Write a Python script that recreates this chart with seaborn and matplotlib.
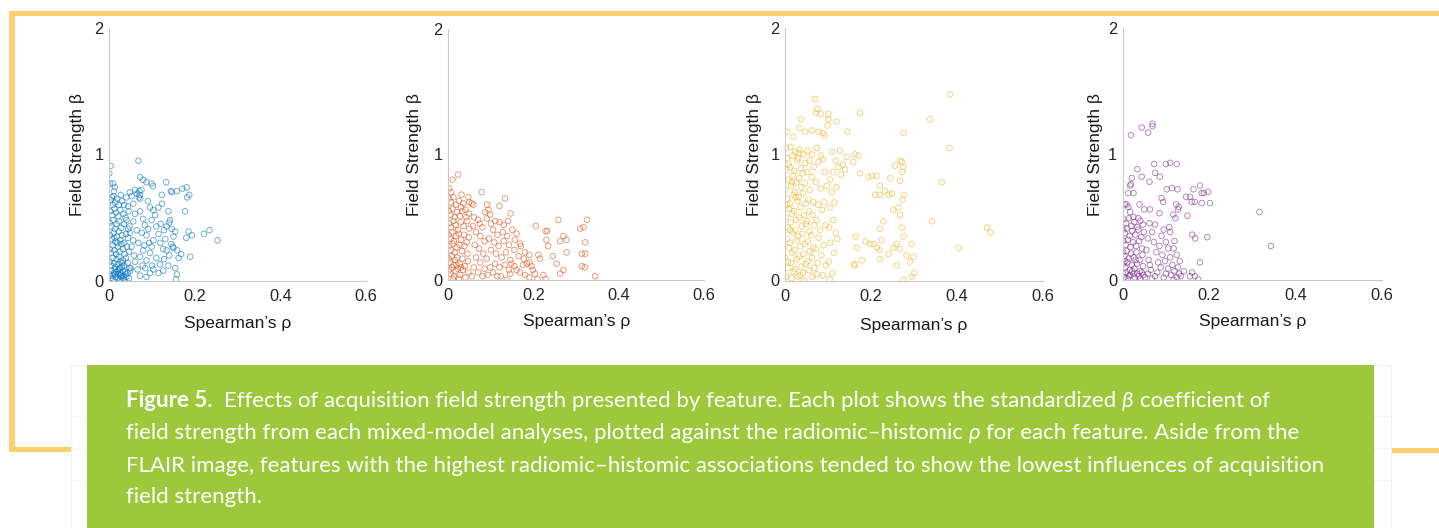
import matplotlib
matplotlib.use("Agg")
import matplotlib.pyplot as plt
import seaborn as sns
import pandas as pd
from matplotlib.transforms import IdentityTransform
from matplotlib.patches import Rectangle

# ---------------- data: (Spearman's rho, field-strength beta) per feature ----------------
panel1_points = [
    (0.003,0.91),(0.000,0.85),(0.068,0.95),(0.002,0.77),(0.009,0.77),(0.011,0.71),(0.013,0.74),
    (0.072,0.82),(0.079,0.80),(0.087,0.78),(0.099,0.77),(0.102,0.75),(0.133,0.78),(0.144,0.71),(0.146,0.70),
    (0.158,0.71),(0.171,0.73),(0.181,0.74),(0.187,0.68),(0.182,0.66),(0.177,0.55),(0.123,0.68),(0.123,0.61),
    (0.115,0.58),(0.103,0.56),(0.107,0.52),(0.099,0.48),(0.138,0.55),(0.142,0.48),(0.134,0.43),(0.146,0.41),
    (0.154,0.39),(0.150,0.35),(0.185,0.39),(0.193,0.36),(0.180,0.34),(0.221,0.37),(0.234,0.40),(0.253,0.32),
    (0.131,0.33),(0.119,0.30),(0.126,0.25),(0.134,0.24),(0.148,0.27),(0.159,0.24),(0.168,0.21),(0.162,0.18),
    (0.189,0.19),(0.154,0.10),(0.158,0.05),(0.156,0.01),(0.138,0.12),(0.126,0.08),(0.115,0.06),(0.103,0.09),
    (0.095,0.06),(0.084,0.10),(0.072,0.04),(0.087,0.03),
    (0.064,0.69),(0.072,0.65),(0.052,0.67),(0.056,0.61),(0.044,0.59),(0.060,0.53),(0.072,0.55),(0.079,0.49),
    (0.056,0.47),(0.044,0.41),(0.064,0.40),(0.076,0.38),(0.087,0.36),(0.056,0.32),(0.068,0.30),(0.052,0.27),
    (0.079,0.24),(0.072,0.19),(0.060,0.15),(0.087,0.16),(0.095,0.22),(0.099,0.27),(0.103,0.32),(0.091,0.41),
    (0.083,0.44),(0.070,0.71),(0.071,0.68),(0.069,0.66),(0.075,0.72),(0.060,0.72),(0.048,0.70),(0.040,0.66),
    (0.035,0.60),(0.090,0.63),(0.095,0.58),(0.110,0.43),(0.115,0.37),(0.120,0.45),(0.128,0.40),(0.140,0.46),
    (0.145,0.29),(0.150,0.26),(0.140,0.20),(0.128,0.17),(0.118,0.13),(0.110,0.18),(0.100,0.12),(0.093,0.30),
    (0.082,0.28),(0.078,0.12),(0.066,0.09),(0.058,0.20),(0.050,0.10),
    (0.003,0.64),(0.006,0.66),(0.010,0.67),(0.014,0.62),(0.018,0.65),(0.022,0.60),(0.027,0.68),(0.030,0.63),(0.008,0.60),
    (0.002,0.55),(0.007,0.52),(0.012,0.57),(0.016,0.54),(0.021,0.51),(0.026,0.56),(0.033,0.53),(0.038,0.50),(0.045,0.55),
    (0.001,0.46),(0.005,0.43),(0.009,0.48),(0.013,0.41),(0.017,0.45),(0.023,0.47),(0.028,0.42),(0.034,0.45),(0.040,0.48),(0.047,0.43),
    (0.002,0.36),(0.006,0.33),(0.010,0.38),(0.014,0.31),(0.018,0.35),(0.022,0.39),(0.026,0.32),(0.030,0.36),(0.035,0.30),
    (0.039,0.37),(0.044,0.34),(0.048,0.38),(0.012,0.34),
    (0.001,0.25),(0.004,0.22),(0.008,0.28),(0.012,0.24),(0.016,0.21),(0.020,0.27),(0.024,0.23),(0.028,0.29),(0.032,0.25),
    (0.036,0.21),(0.041,0.27),(0.046,0.23),(0.019,0.30),
    (0.002,0.15),(0.005,0.12),(0.008,0.18),(0.011,0.14),(0.014,0.11),(0.017,0.17),(0.020,0.13),(0.023,0.19),(0.026,0.15),
    (0.029,0.11),(0.032,0.16),(0.035,0.12),(0.039,0.18),(0.043,0.14),(0.047,0.10),(0.025,0.10),(0.030,0.14),
    (0.001,0.05),(0.003,0.02),(0.005,0.08),(0.007,0.04),(0.009,0.01),(0.011,0.06),(0.013,0.09),(0.015,0.03),(0.017,0.07),
    (0.019,0.02),(0.021,0.05),(0.023,0.09),(0.025,0.01),(0.027,0.06),(0.029,0.03),(0.031,0.08),(0.033,0.04),(0.035,0.01),
    (0.037,0.07),(0.040,0.03),(0.043,0.06),(0.046,0.02),(0.049,0.08),(0.014,0.05),(0.020,0.08),(0.026,0.04),(0.032,0.02),(0.038,0.05),
]

panel2_points = [
    (0.023,0.84),(0.010,0.80),(0.002,0.73),(0.007,0.70),(0.031,0.68),(0.047,0.66),(0.055,0.61),(0.049,0.62),(0.059,0.60),
    (0.078,0.70),(0.133,0.65),(0.120,0.59),(0.146,0.53),(0.091,0.60),(0.094,0.56),(0.086,0.54),(0.074,0.45),(0.205,0.43),
    (0.228,0.39),(0.232,0.39),(0.258,0.48),(0.309,0.41),(0.317,0.42),(0.325,0.48),(0.270,0.35),(0.277,0.32),(0.262,0.31),
    (0.321,0.30),(0.321,0.21),(0.313,0.21),(0.277,0.22),(0.230,0.32),(0.234,0.27),(0.245,0.19),(0.254,0.13),(0.270,0.08),
    (0.262,0.05),(0.320,0.10),(0.313,0.11),(0.344,0.03),(0.211,0.20),(0.215,0.17),(0.195,0.11),(0.203,0.05),(0.209,0.005),
    (0.223,0.04),(0.228,0.005),(0.156,0.32),(0.168,0.29),(0.177,0.17),(0.184,0.13),(0.160,0.08),(0.148,0.13),(0.123,0.03),
    (0.137,0.00),(0.145,0.05),
    (0.100,0.45),(0.110,0.47),(0.120,0.46),(0.130,0.44),(0.140,0.47),(0.105,0.40),(0.115,0.36),(0.128,0.38),(0.138,0.35),
    (0.150,0.40),(0.160,0.37),(0.095,0.33),(0.108,0.30),(0.118,0.27),(0.130,0.31),(0.142,0.28),(0.155,0.24),(0.170,0.27),
    (0.180,0.22),(0.190,0.20),(0.100,0.24),(0.112,0.21),(0.125,0.18),(0.135,0.22),(0.145,0.16),(0.165,0.19),(0.175,0.12),
    (0.190,0.14),(0.198,0.08),(0.110,0.13),(0.120,0.10),(0.132,0.12),(0.142,0.08),(0.155,0.11),(0.168,0.06),(0.180,0.04),
    (0.190,0.02),(0.105,0.06),(0.115,0.03),(0.098,0.10),(0.060,0.50),(0.070,0.48),(0.080,0.42),(0.065,0.38),(0.075,0.35),
    (0.085,0.31),(0.062,0.28),(0.072,0.25),(0.082,0.21),(0.090,0.17),(0.065,0.18),(0.075,0.14),(0.085,0.09),(0.060,0.10),
    (0.070,0.06),(0.080,0.03),(0.092,0.04),(0.055,0.03),(0.058,0.43),(0.090,0.49),(0.098,0.52),
    (0.002,0.65),(0.006,0.62),(0.012,0.66),(0.018,0.60),(0.025,0.63),(0.030,0.58),(0.035,0.61),(0.040,0.56),
    (0.001,0.55),(0.005,0.52),(0.010,0.57),(0.015,0.50),(0.020,0.54),(0.027,0.51),(0.033,0.55),(0.042,0.50),(0.048,0.53),
    (0.002,0.45),(0.007,0.42),(0.012,0.47),(0.017,0.44),(0.023,0.40),(0.029,0.46),(0.036,0.43),(0.044,0.47),(0.049,0.41),
    (0.001,0.36),(0.005,0.33),(0.009,0.38),(0.013,0.31),(0.018,0.35),(0.024,0.37),(0.030,0.32),(0.037,0.36),(0.043,0.30),(0.048,0.34),
    (0.002,0.27),(0.006,0.24),(0.010,0.29),(0.015,0.22),(0.020,0.26),(0.026,0.28),(0.032,0.23),(0.038,0.27),(0.045,0.21),
    (0.001,0.17),(0.004,0.14),(0.008,0.19),(0.012,0.12),(0.016,0.16),(0.021,0.18),(0.027,0.13),(0.033,0.17),(0.039,0.11),(0.046,0.15),
    (0.002,0.08),(0.005,0.05),(0.009,0.10),(0.013,0.03),(0.017,0.07),(0.022,0.09),(0.028,0.04),(0.034,0.08),(0.040,0.02),
    (0.047,0.06),(0.011,0.01),(0.025,0.01),(0.019,0.12),(0.030,0.10),
]

panel3_points = [
    (0.384,1.475),(0.070,1.44),(0.075,1.36),(0.072,1.33),(0.083,1.32),(0.101,1.32),(0.101,1.28),(0.099,1.23),(0.120,1.26),
    (0.175,1.33),(0.338,1.28),(0.145,1.18),(0.276,1.17),(0.037,1.28),(0.004,1.18),(0.019,1.14),(0.033,1.21),(0.047,1.18),
    (0.062,1.19),(0.078,1.18),(0.088,1.17),(0.093,1.15),(0.383,1.05),(0.365,0.78),(0.342,0.47),(0.470,0.42),(0.478,0.38),
    (0.404,0.26),(0.128,1.03),(0.144,0.98),(0.163,1.00),(0.171,0.99),(0.159,0.94),(0.175,0.85),(0.194,0.82),(0.202,0.83),
    (0.213,0.83),(0.221,0.75),(0.210,0.68),(0.221,0.68),(0.233,0.71),(0.241,0.68),(0.249,0.69),(0.245,0.81),(0.256,0.91),
    (0.268,0.95),(0.272,0.94),(0.276,0.90),(0.273,0.86),(0.268,0.79),(0.277,0.68),(0.274,0.64),(0.264,0.58),(0.252,0.56),
    (0.268,0.52),(0.272,0.42),(0.276,0.35),(0.229,0.47),(0.221,0.41),(0.260,0.29),(0.252,0.26),(0.268,0.25),(0.295,0.29),
    (0.283,0.20),(0.299,0.19),(0.291,0.15),(0.301,0.06),(0.295,0.03),(0.276,0.005),(0.260,0.12),(0.241,0.21),(0.221,0.17),
    (0.220,0.24),(0.206,0.29),(0.214,0.26),(0.225,0.32),(0.188,0.31),(0.198,0.29),(0.165,0.35),(0.167,0.26),(0.163,0.13),
    (0.161,0.12),(0.179,0.16),
    (0.110,1.02),(0.118,0.95),(0.125,0.90),(0.112,0.86),(0.130,0.84),(0.105,0.80),(0.120,0.74),(0.108,0.70),(0.115,0.62),
    (0.104,0.58),(0.112,0.48),(0.103,0.42),(0.118,0.38),(0.106,0.30),(0.114,0.22),(0.102,0.15),(0.110,0.06),(0.104,0.01),
    (0.135,0.92),(0.140,0.88),(0.122,0.33),
    (0.002,1.05),(0.006,0.97),(0.003,0.88),(0.008,0.80),(0.001,0.72),(0.005,0.65),(0.009,0.57),(0.002,0.50),(0.007,0.42),
    (0.004,0.33),(0.009,0.26),(0.001,0.18),(0.006,0.10),(0.003,0.03),(0.008,0.92),(0.004,0.60),(0.007,0.15),
    (0.013,1.06),(0.017,0.99),(0.012,0.90),(0.018,0.83),(0.014,0.75),(0.019,0.68),(0.011,0.61),(0.016,0.53),(0.013,0.46),
    (0.018,0.38),(0.012,0.30),(0.017,0.22),(0.014,0.14),(0.019,0.07),(0.015,0.02),(0.016,0.78),(0.011,0.40),
    (0.024,1.02),(0.028,0.95),(0.022,0.87),(0.027,0.78),(0.023,0.70),(0.029,0.63),(0.021,0.55),(0.026,0.48),(0.024,0.40),
    (0.028,0.32),(0.022,0.24),(0.027,0.17),(0.023,0.09),(0.029,0.03),(0.025,0.66),
    (0.034,1.04),(0.031,0.97),(0.037,0.89),(0.033,0.81),(0.038,0.74),(0.032,0.66),(0.036,0.58),(0.034,0.50),(0.039,0.43),
    (0.031,0.35),(0.036,0.27),(0.033,0.19),(0.038,0.11),(0.035,0.04),(0.032,1.01),
    (0.043,1.00),(0.047,0.93),(0.041,0.85),(0.046,0.77),(0.042,0.69),(0.048,0.61),(0.044,0.52),(0.049,0.45),(0.041,0.37),
    (0.046,0.29),(0.043,0.21),(0.048,0.13),(0.042,0.06),(0.045,0.00),
    (0.053,1.03),(0.057,0.95),(0.052,0.86),(0.058,0.72),(0.054,0.64),(0.056,0.55),(0.051,0.47),(0.057,0.39),(0.053,0.31),
    (0.058,0.23),(0.052,0.15),(0.056,0.08),
    (0.063,1.00),(0.067,0.90),(0.062,0.82),(0.066,0.62),(0.064,0.52),(0.068,0.44),(0.061,0.36),(0.066,0.26),(0.063,0.18),
    (0.068,0.10),(0.064,0.03),
    (0.074,1.05),(0.078,0.94),(0.072,0.78),(0.077,0.60),(0.073,0.48),(0.078,0.34),(0.072,0.25),(0.076,0.14),(0.074,0.05),
    (0.084,0.99),(0.088,0.96),(0.083,0.73),(0.091,0.62),(0.086,0.56),(0.094,0.44),(0.082,0.40),(0.090,0.28),(0.085,0.20),
    (0.095,0.12),(0.088,0.04),(0.092,0.86),(0.097,0.75),
]

panel4_points = [
    (0.069,1.24),(0.069,1.22),(0.044,1.21),(0.059,1.17),(0.019,1.15),(0.073,0.92),(0.100,0.92),(0.110,0.93),(0.125,0.92),
    (0.034,0.88),(0.075,0.85),(0.086,0.82),(0.044,0.82),(0.062,0.78),(0.021,0.81),(0.019,0.76),(0.017,0.75),(0.013,0.69),
    (0.025,0.69),(0.005,0.60),(0.009,0.60),(0.013,0.58),(0.017,0.54),(0.025,0.50),(0.036,0.49),(0.039,0.60),(0.050,0.56),
    (0.063,0.56),(0.085,0.53),(0.090,0.65),(0.094,0.62),(0.102,0.72),(0.114,0.73),(0.127,0.72),(0.124,0.60),(0.130,0.58),
    (0.128,0.56),(0.117,0.52),(0.122,0.49),(0.147,0.66),(0.156,0.66),(0.160,0.62),(0.167,0.62),(0.164,0.72),(0.179,0.75),
    (0.183,0.69),(0.188,0.69),(0.198,0.70),(0.202,0.61),(0.150,0.51),(0.183,0.61),(0.317,0.54),(0.343,0.27),(0.161,0.36),
    (0.168,0.33),(0.196,0.34),(0.179,0.14),(0.161,0.06),(0.167,0.03),(0.156,0.03),(0.175,0.005),(0.142,0.07),
    (0.095,0.40),(0.090,0.35),(0.100,0.30),(0.085,0.27),(0.105,0.25),(0.092,0.20),(0.110,0.18),(0.098,0.15),(0.115,0.12),
    (0.105,0.09),(0.120,0.07),(0.112,0.04),(0.125,0.02),(0.130,0.05),(0.118,0.00),(0.135,0.03),(0.088,0.10),(0.080,0.06),
    (0.075,0.03),(0.082,0.14),(0.078,0.22),(0.072,0.30),(0.068,0.38),(0.075,0.44),(0.062,0.45),(0.058,0.33),(0.055,0.24),
    (0.060,0.16),(0.065,0.08),(0.058,0.05),(0.052,0.02),(0.068,0.01),(0.063,0.12),(0.118,0.25),(0.125,0.20),(0.120,0.31),
    (0.110,0.38),(0.108,0.42),(0.132,0.15),(0.128,0.10),(0.100,0.05),(0.095,0.02),
    (0.002,0.48),(0.008,0.45),(0.014,0.49),(0.020,0.43),(0.027,0.46),(0.034,0.42),(0.041,0.47),(0.047,0.44),
    (0.001,0.40),(0.005,0.37),(0.010,0.41),(0.016,0.35),(0.022,0.39),(0.029,0.36),(0.036,0.40),(0.043,0.34),(0.049,0.38),
    (0.002,0.31),(0.007,0.28),(0.012,0.32),(0.018,0.26),(0.024,0.30),(0.031,0.27),(0.038,0.31),(0.045,0.25),
    (0.001,0.22),(0.004,0.19),(0.009,0.23),(0.014,0.17),(0.019,0.21),(0.025,0.18),(0.032,0.22),(0.039,0.16),(0.046,0.20),
    (0.002,0.13),(0.006,0.10),(0.011,0.14),(0.016,0.08),(0.021,0.12),(0.027,0.09),(0.033,0.13),(0.040,0.07),(0.047,0.11),
    (0.001,0.05),(0.004,0.02),(0.008,0.06),(0.012,0.01),(0.017,0.04),(0.022,0.07),(0.028,0.02),(0.034,0.05),(0.041,0.01),
    (0.048,0.04),(0.015,0.03),(0.025,0.05),(0.037,0.03),(0.044,0.06),(0.006,0.15),(0.030,0.16),
]

panel_colors = ["#0072BD", "#D95319", "#EDB120", "#7E2F8E"]
x_ticks = [0, 0.2, 0.4, 0.6]
x_tick_labels = ["0", "0.2", "0.4", "0.6"]
y_ticks = [0, 1, 2]
y_tick_labels = ["0", "1", "2"]
x_label = "Spearman\u2019s \u03c1"
y_label = "Field Strength \u03b2"

caption_lines = [
    [("Figure 5.", "bold", "normal"), ("  ", None, None),
     ("Effects of acquisition field strength presented by feature. Each plot shows the standardized", "normal", "normal"),
     (" ", None, None), ("\u03b2", "normal", "italic"), (" ", None, None), ("coefficient of", "normal", "normal")],
    [("field strength from each mixed-model analyses, plotted against the radiomic\u2013histomic", "normal", "normal"),
     (" ", None, None), ("\u03c1", "normal", "italic"), (" ", None, None),
     ("for each feature. Aside from the", "normal", "normal")],
    [("FLAIR image, features with the highest radiomic\u2013histomic associations tended to show the lowest influences of acquisition", "normal", "normal")],
    [("field strength.", "normal", "normal")],
]

# ---------------- figure ----------------
sns.set_style("white")
plt.rcParams['font.family'] = ['Liberation Sans', 'DejaVu Sans']

W, H = 1439, 528
fig = plt.figure(figsize=(W / 100, H / 100), dpi=100)
fig.patch.set_facecolor("white")
ID = IdentityTransform()


def px_rect(x0, y0, x1, y1):
    return [x0 / W, 1 - y1 / H, (x1 - x0) / W, (y1 - y0) / H]


def add_px_rect(x0, y0, x1, y1, **kw):
    r = Rectangle((x0, H - y1), x1 - x0, y1 - y0, transform=ID, **kw)
    fig.add_artist(r)
    return r


# decorative frame (orange) and caption box
ORANGE = "#FFCF70"
add_px_rect(9, 11, W, 15.5, facecolor=ORANGE, edgecolor="none", zorder=0)
add_px_rect(9, 11, 15, 452, facecolor=ORANGE, edgecolor="none", zorder=0)
add_px_rect(9, 447, 80, 452, facecolor=ORANGE, edgecolor="none", zorder=0)
add_px_rect(1380, 447.5, W, 452.5, facecolor=ORANGE, edgecolor="none", zorder=0)
add_px_rect(70.5, 365, 1391, H + 5, facecolor="white", edgecolor="#F2F2F2", linewidth=0.8, zorder=1)
for yy in [416, 448, 480]:
    add_px_rect(70.5, yy, 1391, yy + 0.6, facecolor="#F3F3F3", edgecolor="none", zorder=1)
add_px_rect(87, 365, 1374, H + 5, facecolor="#9CC93B", edgecolor="none", zorder=2)

panel_axes_px = [
    (109.3, 28.3, 366.0, 280.7),
    (448.3, 29.0, 704.3, 280.0),
    (785.0, 28.3, 1042.7, 280.5),
    (1122.7, 28.0, 1381.7, 280.0),
]
ylabel_x = [-0.095, -0.103, -0.090, -0.076]
xlabel_y = [-0.138, -0.135, -0.150, -0.135]
all_points = [panel1_points, panel2_points, panel3_points, panel4_points]

for i, pts in enumerate(all_points):
    ax = fig.add_axes(px_rect(*panel_axes_px[i]))
    df = pd.DataFrame(pts, columns=["rho", "beta"])
    c = panel_colors[i]
    sns.scatterplot(data=df, x="rho", y="beta", ax=ax, color=c, facecolor="none",
                    edgecolor=c, s=16, linewidth=0.65, alpha=0.6, legend=False)
    ax.set_xlim(0, 0.6)
    ax.set_ylim(0, 2)
    ax.set_xticks(x_ticks)
    ax.set_xticklabels(x_tick_labels)
    ax.set_yticks(y_ticks)
    ax.set_yticklabels(y_tick_labels)
    for side in ["top", "right"]:
        ax.spines[side].set_visible(False)
    for side in ["left", "bottom"]:
        ax.spines[side].set_color("#C9C9C9")
        ax.spines[side].set_linewidth(0.8)
    ax.tick_params(axis="both", direction="in", length=3, width=0.7, color="#BDBDBD",
                   labelsize=11.8, labelcolor="#262626")
    ax.tick_params(axis="x", pad=6)
    ax.tick_params(axis="y", pad=4)
    ax.set_xlabel(x_label, fontsize=12.5, color="#1a1a1a")
    ax.set_ylabel(y_label, fontsize=12.5, color="#1a1a1a")
    ax.xaxis.set_label_coords(0.5, xlabel_y[i])
    ax.yaxis.set_label_coords(ylabel_x[i], 0.5)
    ax.set_facecolor("none")

# ---------------- caption ----------------
renderer = fig.canvas.get_renderer()
CAP_FONT = ["Lato", "DejaVu Sans"]


def text_width(s, size, weight="normal", style="normal"):
    t = fig.text(0, 0, s, fontsize=size, family=CAP_FONT, weight=weight, style=style, transform=ID)
    w = t.get_window_extent(renderer).width
    t.remove()
    return w


ref_line = caption_lines[2][0][0]
base = 20.0
w_ref = text_width(ref_line, base)
cap_size = base * (1327 - 126) / w_ref
space_w = text_width("a a", cap_size) - text_width("aa", cap_size)

baselines = [407, 439, 472, 503]
for line, yb in zip(caption_lines, baselines):
    x = 126.0
    for s, weight, style in line:
        if weight is None:
            x += space_w * len(s)
            continue
        t = fig.text(x, H - yb, s, fontsize=cap_size, family=CAP_FONT, weight=weight,
                     style=style, color="white", ha="left", va="baseline", transform=ID, zorder=5)
        x += t.get_window_extent(renderer).width

fig.savefig("out.png", dpi=100, facecolor="white")
